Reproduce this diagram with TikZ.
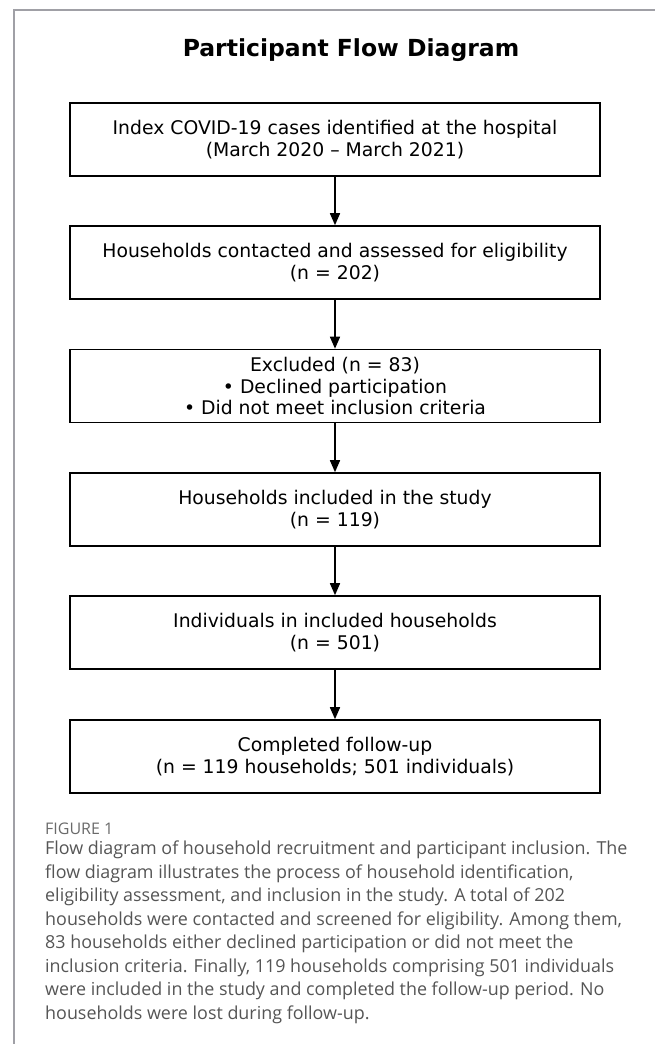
\documentclass[tikz,border=0pt]{standalone}
\usepackage{fontspec}
\setmainfont{DejaVu Sans}
\newfontfamily\capfont{Open Sans}
\usetikzlibrary{arrows.meta}
\definecolor{framegrey}{HTML}{A0A0A6}
\definecolor{capgrey}{HTML}{555555}
\definecolor{figgrey}{HTML}{6A6A6A}
\begin{document}
\begin{tikzpicture}[x=1pt, y=-1pt,
    flowbox/.style={draw, line width=1.6pt, minimum width=530pt, minimum height=73pt,
        align=center, inner sep=0pt, font=\fontsize{18.8}{21.5}\selectfont},
    flowarrow/.style={line width=1.6pt, -{Triangle[length=12pt, width=10pt]}}]
    \useasboundingbox (0, 0) rectangle (655, 1044);
    % frame
    \draw[framegrey, line width=1.3pt] (14, 1044) -- (14, 10) -- (655, 10);
    \node[font=\fontsize{23.5}{28}\bfseries\selectfont] (title) at (351, 50) {Participant Flow Diagram};
    % boxes
    \node[flowbox] (index) at (335, 139.5) {Index COVID-19 cases identified at the hospital\\(March 2020 -- March 2021)};
    \node[flowbox] (contacted) at (335, 262.5) {Households contacted and assessed for eligibility\\(n = 202)};
    \node[flowbox] (excluded) at (335, 386) {Excluded (n = 83)\\\textbullet\ Declined participation\\\textbullet\ Did not meet inclusion criteria};
    \node[flowbox] (included) at (335, 509.5) {Households included in the study\\(n = 119)};
    \node[flowbox] (indiv) at (335, 632.5) {Individuals in included households\\(n = 501)};
    \node[flowbox] (followup) at (335, 756.5) {Completed follow-up\\(n = 119 households; 501 individuals)};
    % arrows
    \draw[flowarrow] (index) -- (contacted);
    \draw[flowarrow] (contacted) -- (excluded);
    \draw[flowarrow] (excluded) -- (included);
    \draw[flowarrow] (included) -- (indiv);
    \draw[flowarrow] (indiv) -- (followup);
    % caption
    \node[anchor=west, inner sep=0pt, text=figgrey, font=\capfont\fontsize{16}{18}\selectfont] (fig) at (45, 829) {FIGURE 1};
    \node[anchor=north west, align=left, inner sep=0pt, text=capgrey,
        font=\capfont\fontsize{17.9}{23.5}\selectfont] (caption) at (45, 841)
        {Flow diagram of household recruitment and participant inclusion. The\\
         flow diagram illustrates the process of household identification,\\
         eligibility assessment, and inclusion in the study. A total of 202\\
         households were contacted and screened for eligibility. Among them,\\
         83 households either declined participation or did not meet the\\
         inclusion criteria. Finally, 119 households comprising 501 individuals\\
         were included in the study and completed the follow-up period. No\\
         households were lost during follow-up.};
\end{tikzpicture}
\end{document}
